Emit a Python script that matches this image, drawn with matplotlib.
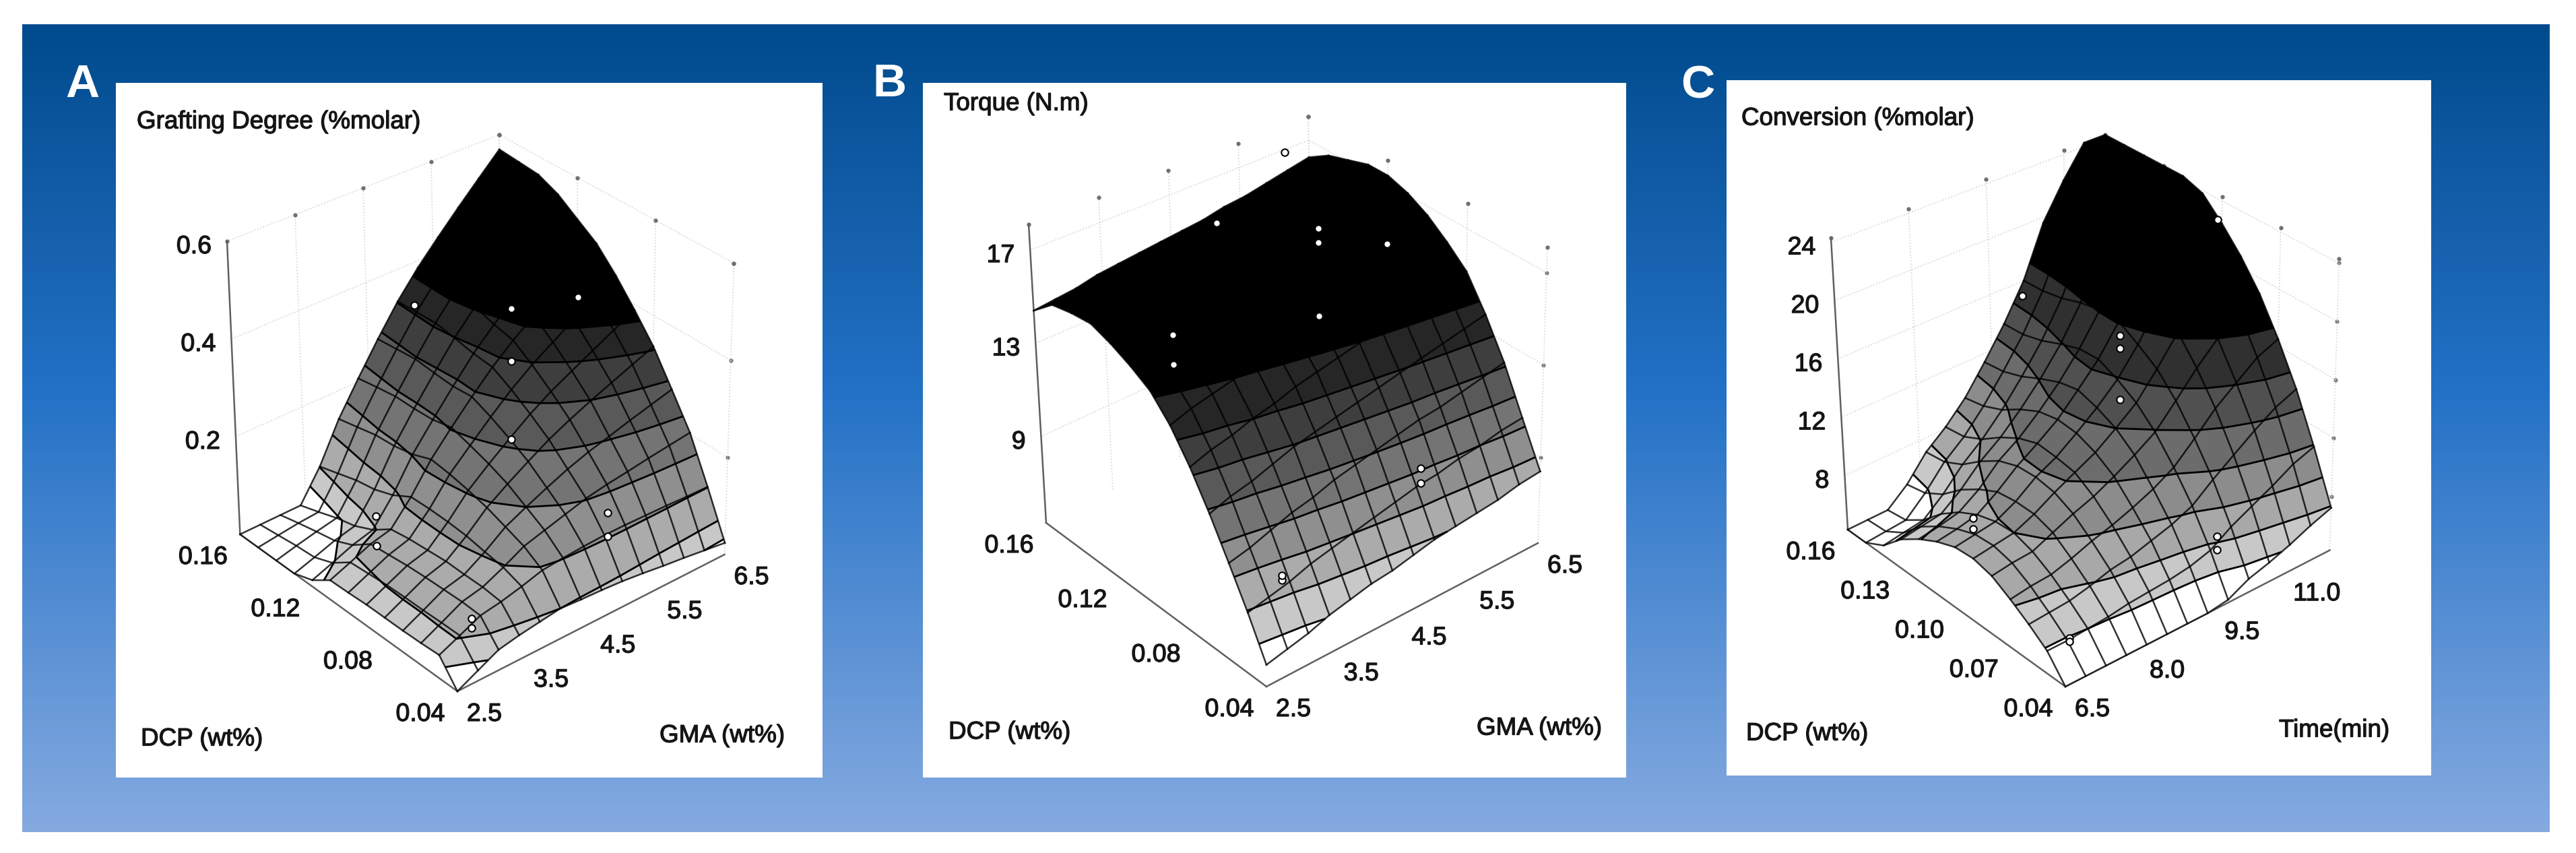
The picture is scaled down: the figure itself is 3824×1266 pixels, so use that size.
import numpy as np
import matplotlib
matplotlib.use('Agg')
import matplotlib.pyplot as plt
import matplotlib.patheffects as pe
from matplotlib.colors import LinearSegmentedColormap

plt.rcParams['font.family'] = ['Liberation Sans', 'DejaVu Sans']

# axis ranges of the three plots
dcp_range = [0.04, 0.16]
gma_range = [2.5, 6.5]
time_range = [6.5, 11.8]
z_rng_a = [0.0, 0.6]
z_rng_b = [5.3, 18.1]
z_rng_c = [4.3, 24.3]

# surface heights, rows go along DCP, columns along GMA / time
z_a = np.array([
    [0.000, 0.020, 0.040, 0.048, 0.054, 0.060, 0.057, 0.055, 0.052, 0.047, 0.041, 0.036, 0.030, 0.024],
    [0.045, 0.063, 0.082, 0.089, 0.099, 0.111, 0.115, 0.118, 0.120, 0.120, 0.119, 0.118, 0.116, 0.115],
    [0.043, 0.063, 0.084, 0.093, 0.112, 0.134, 0.146, 0.158, 0.170, 0.178, 0.184, 0.191, 0.197, 0.203],
    [0.042, 0.062, 0.083, 0.093, 0.118, 0.148, 0.168, 0.187, 0.205, 0.220, 0.232, 0.245, 0.257, 0.269],
    [0.042, 0.062, 0.082, 0.094, 0.125, 0.162, 0.190, 0.216, 0.241, 0.262, 0.281, 0.299, 0.317, 0.335],
    [0.042, 0.061, 0.080, 0.091, 0.128, 0.172, 0.206, 0.238, 0.269, 0.296, 0.319, 0.342, 0.365, 0.388],
    [0.040, 0.058, 0.076, 0.088, 0.129, 0.180, 0.219, 0.258, 0.295, 0.327, 0.355, 0.383, 0.410, 0.438],
    [0.039, 0.055, 0.072, 0.082, 0.128, 0.185, 0.231, 0.275, 0.317, 0.354, 0.386, 0.418, 0.450, 0.482],
    [0.013, 0.028, 0.044, 0.055, 0.106, 0.170, 0.222, 0.272, 0.321, 0.363, 0.400, 0.438, 0.474, 0.511],
    [0.000, 0.013, 0.027, 0.037, 0.092, 0.162, 0.220, 0.275, 0.329, 0.376, 0.417, 0.459, 0.500, 0.541],
    [0.000, 0.010, 0.019, 0.027, 0.085, 0.159, 0.220, 0.279, 0.336, 0.386, 0.430, 0.473, 0.517, 0.560],
    [0.000, 0.005, 0.010, 0.013, 0.073, 0.150, 0.214, 0.275, 0.334, 0.386, 0.431, 0.476, 0.520, 0.564],
    [0.000, 0.000, 0.000, 0.000, 0.061, 0.141, 0.207, 0.271, 0.332, 0.385, 0.432, 0.478, 0.523, 0.568],
])
z_b = np.array([
    [6.2, 6.4, 6.6, 6.9, 7.1, 7.3, 7.4, 7.6, 7.8, 7.9, 8.0, 8.1, 8.3, 8.4],
    [7.8, 8.0, 8.2, 8.5, 8.7, 8.9, 9.1, 9.3, 9.5, 9.6, 9.8, 9.9, 10.1, 10.2],
    [9.3, 9.5, 9.8, 10.1, 10.3, 10.6, 10.8, 11.0, 11.2, 11.4, 11.5, 11.7, 11.9, 12.1],
    [10.8, 11.1, 11.3, 11.6, 11.9, 12.1, 12.3, 12.5, 12.7, 12.9, 13.1, 13.3, 13.5, 13.7],
    [12.2, 12.5, 12.7, 13.0, 13.2, 13.5, 13.7, 13.9, 14.1, 14.3, 14.5, 14.7, 14.9, 15.1],
    [13.4, 13.7, 13.9, 14.1, 14.3, 14.5, 14.7, 14.9, 15.0, 15.2, 15.4, 15.6, 15.8, 15.9],
    [14.3, 14.5, 14.7, 14.9, 15.1, 15.3, 15.4, 15.6, 15.7, 15.9, 16.1, 16.2, 16.4, 16.6],
    [14.8, 15.0, 15.2, 15.4, 15.5, 15.7, 15.9, 16.0, 16.2, 16.4, 16.5, 16.7, 16.9, 17.1],
    [15.2, 15.4, 15.5, 15.7, 15.9, 16.1, 16.2, 16.4, 16.5, 16.7, 16.9, 17.1, 17.3, 17.4],
    [15.5, 15.7, 15.8, 16.0, 16.1, 16.2, 16.3, 16.5, 16.6, 16.8, 16.9, 17.1, 17.2, 17.4],
    [15.4, 15.5, 15.7, 15.8, 15.9, 16.0, 16.1, 16.2, 16.3, 16.5, 16.6, 16.8, 16.9, 17.1],
    [15.2, 15.3, 15.4, 15.5, 15.6, 15.7, 15.8, 15.9, 16.0, 16.1, 16.3, 16.4, 16.6, 16.8],
    [14.4, 14.5, 14.6, 14.8, 14.9, 15.0, 15.1, 15.2, 15.3, 15.5, 15.6, 15.8, 16.0, 16.2],
])
z_c = np.array([
    [4.3, 4.3, 4.3, 4.3, 4.3, 4.3, 4.3, 4.3, 4.5, 5.2, 5.6, 6.1, 6.7, 7.2],
    [5.8, 5.8, 5.9, 6.0, 6.2, 6.3, 6.4, 6.6, 7.0, 7.9, 8.6, 9.3, 10.1, 10.6],
    [6.7, 6.8, 6.9, 7.2, 7.6, 7.8, 8.2, 8.6, 9.2, 10.3, 11.3, 12.3, 13.2, 13.8],
    [7.5, 7.7, 7.8, 8.2, 8.7, 9.1, 9.6, 10.2, 11.0, 12.3, 13.7, 14.8, 15.9, 16.5],
    [8.2, 8.4, 8.5, 9.1, 9.7, 10.2, 10.9, 11.7, 12.6, 14.1, 15.7, 17.1, 18.3, 18.9],
    [8.5, 8.7, 8.9, 9.5, 10.3, 11.0, 11.7, 12.7, 13.8, 15.5, 17.4, 18.9, 20.3, 20.8],
    [8.4, 8.6, 8.8, 9.5, 10.5, 11.2, 12.2, 13.3, 14.6, 16.4, 18.6, 20.3, 21.9, 22.4],
    [7.9, 8.1, 8.4, 9.3, 10.4, 11.3, 12.3, 13.7, 15.2, 17.2, 19.7, 21.6, 23.4, 23.8],
    [7.2, 7.4, 7.7, 8.6, 9.9, 10.8, 12.0, 13.4, 15.1, 17.2, 20.0, 22.0, 23.9, 24.3],
    [6.3, 6.5, 6.7, 7.7, 9.0, 10.0, 11.3, 12.8, 14.6, 16.9, 19.9, 22.0, 24.0, 24.3],
    [5.0, 5.2, 5.4, 6.5, 7.9, 9.0, 10.4, 12.1, 14.0, 16.4, 19.6, 21.9, 24.0, 24.3],
    [4.3, 4.4, 4.5, 5.7, 7.2, 8.3, 9.8, 11.6, 13.6, 16.1, 19.5, 22.0, 24.1, 24.3],
    [4.3, 4.3, 4.3, 5.4, 7.0, 8.1, 9.5, 11.4, 13.5, 16.0, 19.6, 22.1, 24.3, 24.3],
])

# height of the contour bands
levels_a = [0.03, 0.06, 0.114, 0.168, 0.228, 0.282, 0.33, 0.372]
levels_b = [6.84, 7.86, 8.88, 9.91, 10.93, 11.96, 12.98, 14.13]
levels_c = [5.9, 7.3, 8.9, 10.7, 12.7, 14.7, 17.1]

# measured points (white circles)
pts_a_dcp = [.10, .10, .10, .112, .112, .064, .064, .058, .058, .136, .10]
pts_a_gma = [4.96, 4.96, 4.96, 3.26, 3.26, 5.4, 5.4, 3.2, 3.2, 4.54, 5.94]
pts_a_z = [.462, .354, .192, .114, .054, .102, .054, .05, .032, .408, .426]

pts_b_dcp = [.10, .10, .10, .148, .136, .10, .112, .112, .064, .064, .058, .058]
pts_b_gma = [4.94, 4.94, 4.94, 5.82, 4.5, 5.92, 3.17, 3.17, 5.42, 5.42, 3.22, 3.22]
pts_b_z = [18.1, 17.46, 14.26, 17.91, 17.04, 16.12, 15.16, 13.88, 8.88, 8.24, 7.66, 7.86]

pts_c_dcp = [.10, .10, .10, .10, .136, .112, .112, .064, .064, .058, .058]
pts_c_time = [9.81, 9.81, 9.81, 11.72, 9.26, 7.3, 7.3, 10.42, 10.42, 7.24, 7.24]
pts_c_z = [17.6, 16.7, 13.1, 22.8, 18.3, 8.0, 7.3, 5.62, 4.7, 4.7, 4.5]

# tick labels
dcp_ticks_ab = [0.04, 0.08, 0.12, 0.16]
dcp_ticks_c = [0.04, 0.07, 0.10, 0.13, 0.16]
gma_ticks = [2.5, 3.5, 4.5, 5.5, 6.5]
time_ticks = [6.5, 8.0, 9.5, 11.0]
z_ticks_a = [0.2, 0.4, 0.6]
z_ticks_b = [9, 13, 17]
z_ticks_c = [8, 12, 16, 20, 24]

grey_a = ['#ffffff', '#c8c8c8', '#ababab', '#8f8f8f', '#747474', '#595959', '#3e3e3e', '#262626', '#000000']
grey_c = ['#ffffff', '#c8c8c8', '#a8a8a8', '#8c8c8c', '#6c6c6c', '#505050', '#303030', '#000000']

# floor and roof corners of each box in pixels: front, left, right, back
panels = [
    dict(rect=(172, 123, 1221, 1154),
         floor=[(679, 1026), (356.4, 793), (1075.5, 823), (746, 607)],
         roof=[(679, 566), (337, 358), (1089.5, 390.5), (741, 200)],
         d=dcp_range, g=gma_range, zr=z_rng_a, Z=z_a, levels=levels_a, greys=grey_a,
         dticks=dcp_ticks_ab, gticks=gma_ticks, zticks=z_ticks_a, zfmt='%.1f',
         pts=(pts_a_dcp, pts_a_gma, pts_a_z),
         title=('Grafting Degree (%molar)', 203, 181), xl=('DCP (wt%)', 209, 1097),
         yl=('GMA (wt%)', 979, 1092), tag=('A', 122, 126)),
    dict(rect=(1370, 123, 2414, 1154),
         floor=[(1880, 1019), (1553, 776), (2283, 806), (1949, 580)],
         roof=[(1880, 559.5), (1527, 333), (2297, 367), (1942, 173)],
         d=dcp_range, g=gma_range, zr=z_rng_b, Z=z_b, levels=levels_b, greys=grey_a,
         dticks=dcp_ticks_ab, gticks=gma_ticks, zticks=z_ticks_b, zfmt='%d',
         pts=(pts_b_dcp, pts_b_gma, pts_b_z),
         title=('Torque (N.m)', 1401, 154), xl=('DCP (wt%)', 1408, 1087),
         yl=('GMA (wt%)', 2192, 1081), tag=('B', 1320, 125)),
    dict(rect=(2563, 119, 3609, 1151),
         floor=[(3066, 1019), (2743, 786), (3458.5, 816.6), (3129, 597)],
         roof=[(3066, 570), (2718, 353), (3472.5, 384), (3125, 200)],
         d=dcp_range, g=time_range, zr=z_rng_c, Z=z_c, levels=levels_c, greys=grey_c,
         dticks=dcp_ticks_c, gticks=time_ticks, zticks=z_ticks_c, zfmt='%d',
         pts=(pts_c_dcp, pts_c_time, pts_c_z),
         title=('Conversion (%molar)', 2585, 176), xl=('DCP (wt%)', 2592, 1089),
         yl=('Time(min)', 3383, 1084), tag=('C', 2520, 128)),
]


def project(p, dcp, gma, z):
    # data to picture pixels, straight blend between the corners of the box
    u = (np.asarray(dcp, float) - p['d'][0]) / (p['d'][1] - p['d'][0])
    v = (np.asarray(gma, float) - p['g'][0]) / (p['g'][1] - p['g'][0])
    w = (np.asarray(z, float) - p['zr'][0]) / (p['zr'][1] - p['zr'][0])
    out = []
    for k in (0, 1):
        f = [c[k] for c in p['floor']]
        r = [c[k] for c in p['roof']]
        low = (1 - u) * (1 - v) * f[0] + u * (1 - v) * f[1] + (1 - u) * v * f[2] + u * v * f[3]
        top = (1 - u) * (1 - v) * r[0] + u * (1 - v) * r[1] + (1 - u) * v * r[2] + u * v * r[3]
        out.append(low + w * (top - low))
    return out


def label(x, y, txt, size=27, ha='left'):
    t = ax.text(x, y, txt, fontsize=size, ha=ha, va='center', color='#151515', zorder=8)
    t.set_path_effects([pe.withStroke(linewidth=0.9, foreground='#151515')])


fig = plt.figure(figsize=(38.24, 12.66), dpi=100)
ax = fig.add_axes([0, 0, 1, 1])

cmap = LinearSegmentedColormap.from_list('bg', [(0, '#004b8d'), (0.25, '#1560ac'), (0.45, '#2271c6'), (1, '#85aae0')])
ax.imshow(np.linspace(0, 1, 256)[:, None], cmap=cmap, aspect='auto', extent=(33, 3785, 1235, 36), zorder=0)
ax.set_xlim(0, 3824)
ax.set_ylim(1266, 0)
ax.axis('off')

for p in panels:
    x0, y0, x1, y1 = p['rect']
    ax.fill([x0, x1, x1, x0], [y0, y0, y1, y1], color='white', lw=0, zorder=1)

    d0, d1 = p['d']
    g0, g1 = p['g']
    z0, z1 = p['zr']

    # back walls, faint dotted lines and tick dots
    for t in p['zticks']:
        a, b, c = project(p, d1, g0, t), project(p, d1, g1, t), project(p, d0, g1, t)
        ax.plot([a[0], b[0], c[0]], [a[1], b[1], c[1]], ls=':', color='#d4d4d4', lw=1.2, zorder=2)
        ax.plot(c[0], c[1], 'o', color='#808080', ms=3.5, zorder=2)
    for t in p['gticks']:
        a, b = project(p, d1, t, z0), project(p, d1, t, z1)
        ax.plot([a[0], b[0]], [a[1], b[1]], ls=':', color='#d4d4d4', lw=1.2, zorder=2)
        ax.plot(b[0], b[1], 'o', color='#707070', ms=3.5, zorder=2)
    for t in p['dticks']:
        a, b = project(p, t, g1, z0), project(p, t, g1, z1)
        ax.plot([a[0], b[0]], [a[1], b[1]], ls=':', color='#d4d4d4', lw=1.2, zorder=2)
        ax.plot(b[0], b[1], 'o', color='#707070', ms=3.5, zorder=2)

    # axes lines
    for a, b in [((d1, g0, z0), (d1, g0, z1)), ((d0, g0, z0), (d1, g0, z0)), ((d0, g0, z0), (d0, g1, z0))]:
        pa = project(p, *a)
        pb = project(p, *b)
        ax.plot([pa[0], pb[0]], [pa[1], pb[1]], color='#606060', lw=1.8, zorder=3)

    # the surface
    Z = p['Z']
    D, G = np.meshgrid(np.linspace(d0, d1, Z.shape[0]), np.linspace(g0, g1, Z.shape[1]), indexing='ij')
    px, py = project(p, D, G, Z)
    lv = [z0 - 1] + p['levels'] + [z1 + 50]
    ax.contourf(px, py, Z, levels=lv, colors=p['greys'], zorder=4, antialiased=True)
    ax.contour(px, py, Z, levels=p['levels'], colors='#000000', linewidths=2.0, zorder=5)
    for i in range(Z.shape[0]):
        ax.plot(px[i], py[i], color='#000000', lw=1.8, alpha=.8, zorder=6)
    for j in range(Z.shape[1]):
        ax.plot(px[:, j], py[:, j], color='#000000', lw=1.8, alpha=.8, zorder=6)

    # measured points
    mx, my = project(p, *p['pts'])
    ax.plot(mx, my, 'o', mfc='white', mec='black', ms=7.5, mew=1.5, ls='none', zorder=7)

    # tick labels
    for t in p['dticks']:
        lx, ly = project(p, t, g0, z0)
        label(lx - 55, ly + 34, '%.2f' % t, ha='center')
    for t in p['gticks']:
        lx, ly = project(p, d0, t, z0)
        label(lx + 40, ly + 34, '%.1f' % t, ha='center')
    for t in p['zticks']:
        lx, ly = project(p, d1, g0, t)
        label(lx - 23, ly + 8, p['zfmt'] % t, ha='right')

    for txt, tx, ty in (p['title'], p['xl'], p['yl']):
        label(tx, ty, txt, size=26.5)
    ax.text(p['tag'][1], p['tag'][2], p['tag'][0], fontsize=50, fontweight='bold', color='white',
            ha='center', va='center')

fig.savefig('out.png', dpi=100)
